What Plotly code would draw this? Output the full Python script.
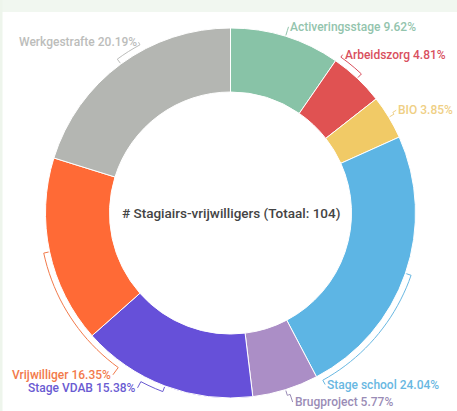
import math
import plotly.graph_objects as go

# ---- data ----
categories = ["Activeringsstage", "Arbeidszorg", "BIO", "Stage school",
              "Brugproject", "Stage VDAB", "Vrijwilliger", "Werkgestrafte"]
counts = [10, 5, 4, 25, 6, 16, 17, 21]
center_title = "# Stagiairs-vrijwilligers (Totaal: 104)"

# ---- styling ----
slice_colors = ["#88c3a7", "#e05252", "#f1ca66", "#5db5e4",
                "#ab8ec6", "#6650d9", "#ff6a36", "#b4b6b2"]
label_colors = ["#93c4ad", "#d9505e", "#efcf84", "#69b8e2",
                "#9a8cb6", "#6a5bd2", "#f27a4b", "#bcbdbb"]
# angle (deg, clockwise from 12 o'clock) and radius (px) where each label sits
label_angles = [17.3, 35.3, 58.2, 151.1, 161.8, 208.0, 216.0, 331.7]
label_radii = [195, 194, 195, 196, 199, 198, 200, 194]

W, H = 457, 411
CX, CY, R = 230.5, 213.0, 185.0
HOLE_R = 121.0


def to_paper(px, py):
    return px / W, 1 - py / H


def polar(angle_deg, r):
    a = math.radians(angle_deg)
    return CX + r * math.sin(a), CY - r * math.cos(a)


total = sum(counts)
fig = go.Figure()
fig.add_trace(go.Pie(
    labels=categories,
    values=counts,
    sort=False,
    direction="clockwise",
    rotation=0,
    hole=HOLE_R / R,
    textinfo="none",
    hoverinfo="label+value+percent",
    marker=dict(colors=slice_colors, line=dict(color="#ffffff", width=1)),
    domain=dict(x=[(CX - R) / W, (CX + R) / W],
                y=[1 - (CY + R) / H, 1 - (CY - R) / H]),
    showlegend=False,
))

shapes = [
    dict(type="rect", xref="paper", yref="paper", x0=0, x1=1,
         y0=1 - 12 / H, y1=1, fillcolor="#f1f7f0", line=dict(width=0), layer="below"),
    dict(type="rect", xref="paper", yref="paper", x0=0, x1=2.5 / W,
         y0=0, y1=1, fillcolor="#eef5ec", line=dict(width=0), layer="below"),
]
annotations = []

cum = 0
for name, v, lc, la, lr in zip(categories, counts, label_colors, label_angles, label_radii):
    mid = (cum + v / 2) / total * 360
    cum += v
    pct = v / total * 100
    # leader path: out from the slice edge, along the arc, then to the label
    pts = [polar(mid, R + 1), polar(mid, R + 6)]
    steps = max(2, int(abs(la - mid) / 2))
    for i in range(1, steps + 1):
        pts.append(polar(mid + (la - mid) * i / steps, R + 6))
    pts.append(polar(la, lr))
    path = "M " + " L ".join(
        "{:.4f},{:.4f}".format(*to_paper(x, y)) for x, y in pts)
    shapes.append(dict(type="path", xref="paper", yref="paper", path=path,
                       line=dict(color=lc, width=1)))
    lx, ly = polar(la, lr)
    px, py = to_paper(lx, ly)
    right = (la % 360) < 180
    annotations.append(dict(
        x=px, y=py, xref="paper", yref="paper",
        text=f"{name} {pct:.2f}%", showarrow=False,
        xanchor="left" if right else "right", yanchor="middle",
        xshift=0 if right else 0,
        font=dict(family="Roboto", size=12, color=lc, weight=500),
    ))

annotations.append(dict(
    x=CX / W, y=1 - CY / H, xref="paper", yref="paper",
    text=center_title, showarrow=False, xanchor="center", yanchor="middle",
    font=dict(family="Roboto", size=13.5, color="#444444", weight=500),
))

fig.update_layout(
    width=W, height=H,
    margin=dict(l=0, r=0, t=0, b=0),
    paper_bgcolor="#ffffff",
    plot_bgcolor="#ffffff",
    shapes=shapes,
    annotations=annotations,
)

fig.write_html("out.html")
